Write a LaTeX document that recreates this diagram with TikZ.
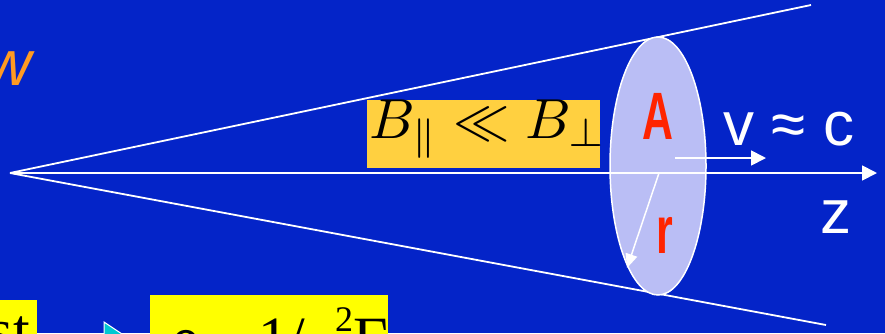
\documentclass[tikz,border=0pt]{standalone}
\usepackage{graphicx}
\usepackage{fontspec}
\setmainfont{Liberation Serif}
\setsansfont{Liberation Sans}
\newfontfamily\symfont{DejaVu Sans}
\usetikzlibrary{arrows.meta,shapes.geometric}
\definecolor{bgblue}{RGB}{4,36,200}
\definecolor{discfill}{RGB}{186,190,245}
\definecolor{labred}{RGB}{255,36,0}
\definecolor{boxgold}{RGB}{255,208,64}
\definecolor{boxyellow}{RGB}{255,255,0}
\definecolor{worange}{RGB}{255,154,34}
\definecolor{tricyan}{RGB}{0,200,210}
\tikzset{
  wline/.style={draw=white, line width=1.8pt},
  warrow/.style={draw=white, line width=1.8pt, -{Triangle[length=15pt,width=15pt]}},
  redlab/.style={text=labred, font=\sffamily\bfseries\fontsize{67}{67}\selectfont, xscale=0.64, inner sep=0pt},
  whitelab/.style={text=white, font=\sffamily\fontsize{62}{62}\selectfont, inner sep=0pt, anchor=base},
  btxt/.style={text=black, font=\fontsize{60}{60}\selectfont, inner sep=0pt, anchor=base west}
}
\begin{document}
\begin{tikzpicture}[x=1pt,y=-1pt]
\useasboundingbox (0,0) rectangle (885,333);
\clip (0,0) rectangle (885,333);
\fill[bgblue] (0,0) rectangle (885,333);
% cone
\coordinate (apex) at (10,173);
\coordinate (uend) at (811,5);
\coordinate (lend) at (826,325);
\coordinate (zend) at (877,173);
\draw[wline] (apex) -- (uend);
\draw[wline] (apex) -- (lend);
% disc
\node[ellipse, draw=white, line width=1.5pt, fill=discfill, minimum width=96pt, minimum height=258pt, inner sep=0pt] (disc) at (658,166) {};
% axis
\draw[warrow] (apex) -- (zend);
% labels on disc
\node[redlab] (A) at (658,116) {A};
\node[redlab] (r) at (665,235) {r};
\coordinate (rc) at (659,173);
\coordinate (rtip) at (627,268);
\draw[white, line width=1.5pt, -{Triangle[length=14pt,width=12pt]}] (rc) -- (rtip);
\coordinate (vs) at (675,158);
\coordinate (ve) at (766,158);
\draw[warrow] (vs) -- (ve);
\node[whitelab] (vc) at (789,145) {v ≈ c};
\node[whitelab] (z) at (836,233) {z};
% B box
\node[fill=boxgold, minimum width=233pt, minimum height=68pt, inner sep=0pt] (bbox) at (483.5,134) {};
\node[inner sep=0pt, anchor=base west] (btext) at (369,138) {\scalebox{5.65}{$B_{\|}\ll B_{\perp}$}};
% orange w
\node[text=worange, font=\sffamily\itshape\fontsize{64}{64}\selectfont, inner sep=0pt, anchor=base east] (w) at (32,85) {w};
% bottom boxes
\fill[boxyellow] (-5,300) rectangle (37,340);
\node[btxt, anchor=base east] (st) at (30,350) {st};
\fill[boxyellow] (150,295) rectangle (388,340);
\node[btxt] (rho) at (170,358) {\textit{ρ}};
\node[btxt] (sim) at (212,362) {\symfont ∼};
\node[btxt] (one) at (258,358) {1/};
\node[btxt] (gam) at (303,368) {\textit{γ}};
\node[btxt, font=\fontsize{36}{36}\selectfont] (two) at (335,331) {2};
\node[btxt] (Gam) at (353,358) {Γ};
% cyan triangle
\filldraw[fill=tricyan, draw=white, line width=1pt] (104,322) -- (128,338) -- (104,354) -- cycle;
\end{tikzpicture}
\end{document}
